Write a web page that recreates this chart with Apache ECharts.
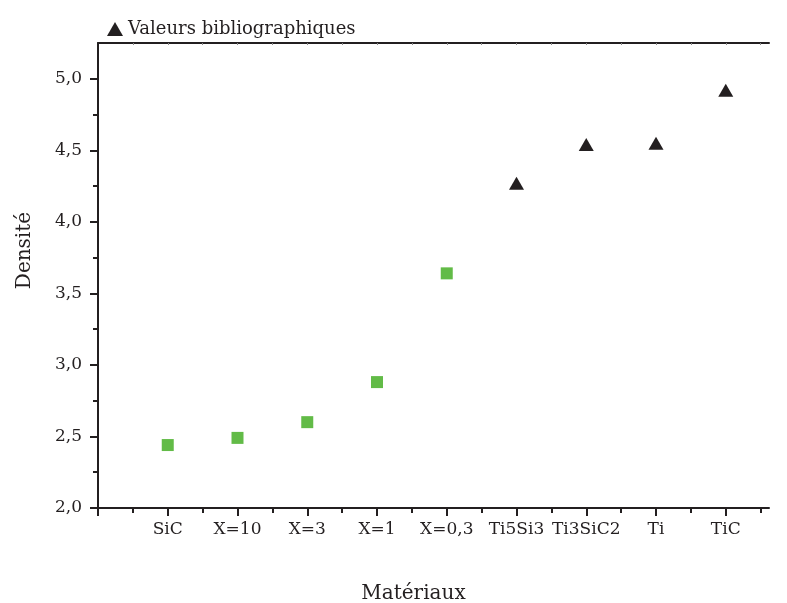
<!DOCTYPE html>
<html>
<head>
<meta charset="utf-8">
<script src="https://cdn.jsdelivr.net/npm/echarts@6/dist/echarts.min.js"></script>
<style>
  html, body { margin: 0; padding: 0; background: #fff; }
  #chart { width: 787px; height: 603px; }
</style>
</head>
<body>
<div id="chart"></div>
<script>
const materials = ['SiC', 'X=10', 'X=3', 'X=1', 'X=0,3', 'Ti5Si3', 'Ti3SiC2', 'Ti', 'TiC']
// mesures (carrés verts)
const measured = [2.44, 2.49, 2.60, 2.88, 3.64]
// valeurs bibliographiques (triangles)
const literature = [4.27, 4.54, 4.55, 4.92]
// graduations
const xMajor = [0, 1, 2, 3, 4, 5, 6, 7, 8, 9]
const xMinor = [0.5, 1.5, 2.5, 3.5, 4.5, 5.5, 6.5, 7.5, 8.5, 9.5]
const xTop = [0.5, 1, 1.5, 2, 2.5, 3, 3.5, 4, 4.5, 5, 5.5, 6, 6.5, 7, 7.5, 8, 8.5, 9, 9.5]
const yMajor = [2, 2.5, 3, 3.5, 4, 4.5, 5]
const yMinor = [2.25, 2.75, 3.25, 3.75, 4.25, 4.75]

const font = 'DejaVu Serif'
const ink = '#231f20'
const xMax = 9.62

function toPoints (values, offset) {
  let pts = []
  for (var i = 0; i < values.length; i++) {
    pts.push([offset + i + 1, values[i]])
  }
  return pts
}

function tickAxis (extra) {
  return Object.assign({
    type: 'value',
    axisLine: { show: false },
    axisLabel: { show: false },
    splitLine: { show: false }
  }, extra)
}

const myChart = echarts.init(document.getElementById('chart'))

myChart.setOption({
  animation: false,
  backgroundColor: '#fff',
  textStyle: { fontFamily: font, color: ink },
  grid: { left: 98, right: 18, top: 43, bottom: 95, outerBoundsMode: 'none', containLabel: false },
  legend: {
    left: 102, top: 15,
    itemWidth: 16, itemHeight: 14, itemGap: 8,
    textStyle: { fontFamily: font, fontSize: 18, color: ink },
    data: [{ name: 'Valeurs bibliographiques', icon: 'triangle' }]
  },
  xAxis: [{
    type: 'value', min: 0, max: xMax,
    name: 'Matériaux', nameLocation: 'middle', nameGap: 76,
    nameTextStyle: { fontFamily: font, fontSize: 20, color: ink, padding: [0, 40, 0, 0] },
    axisLine: { show: true, onZero: false, lineStyle: { color: ink, width: 2 } },
    axisTick: { show: true, length: 8, customValues: xMajor, lineStyle: { color: ink, width: 2 } },
    splitLine: { show: false },
    axisLabel: {
      margin: 13, fontSize: 17, color: ink, fontFamily: font,
      customValues: xMajor.slice(1),
      formatter: v => materials[Math.round(v) - 1] || ''
    }
  },
  tickAxis({
    position: 'top', min: 0, max: xMax,
    axisLine: { show: true, onZero: false, lineStyle: { color: ink, width: 2 } },
    axisTick: { show: true, inside: true, length: 2, customValues: xTop, lineStyle: { color: '#888', width: 1 } }
  }),
  tickAxis({
    position: 'bottom', min: 0, max: xMax,
    axisTick: { show: true, length: 5, customValues: xMinor, lineStyle: { color: ink, width: 2 } }
  })],
  yAxis: [{
    type: 'value', min: 2, max: 5.25,
    name: 'Densité', nameLocation: 'middle', nameGap: 63, nameRotate: 90,
    nameTextStyle: { fontFamily: font, fontSize: 20, color: ink, padding: [0, 0, 0, 50] },
    axisLine: { show: true, onZero: false, lineStyle: { color: ink, width: 2 } },
    axisTick: { show: true, length: 8, customValues: yMajor, lineStyle: { color: ink, width: 2 } },
    splitLine: { show: false },
    axisLabel: {
      margin: 16, fontSize: 17, color: ink, fontFamily: font,
      customValues: yMajor,
      formatter: v => v.toFixed(1).replace('.', ',')
    }
  },
  tickAxis({
    position: 'left', min: 2, max: 5.25,
    axisTick: { show: true, length: 5, customValues: yMinor, lineStyle: { color: ink, width: 2 } }
  })],
  series: [{
    name: 'Mesures',
    type: 'scatter',
    symbol: 'rect', symbolSize: 12,
    itemStyle: { color: '#62bb47', opacity: 1 },
    data: toPoints(measured, 0)
  }, {
    name: 'Valeurs bibliographiques',
    type: 'scatter',
    symbol: 'triangle', symbolSize: [15, 13],
    itemStyle: { color: ink, opacity: 1 },
    data: toPoints(literature, measured.length)
  }]
})
</script>
</body>
</html>
